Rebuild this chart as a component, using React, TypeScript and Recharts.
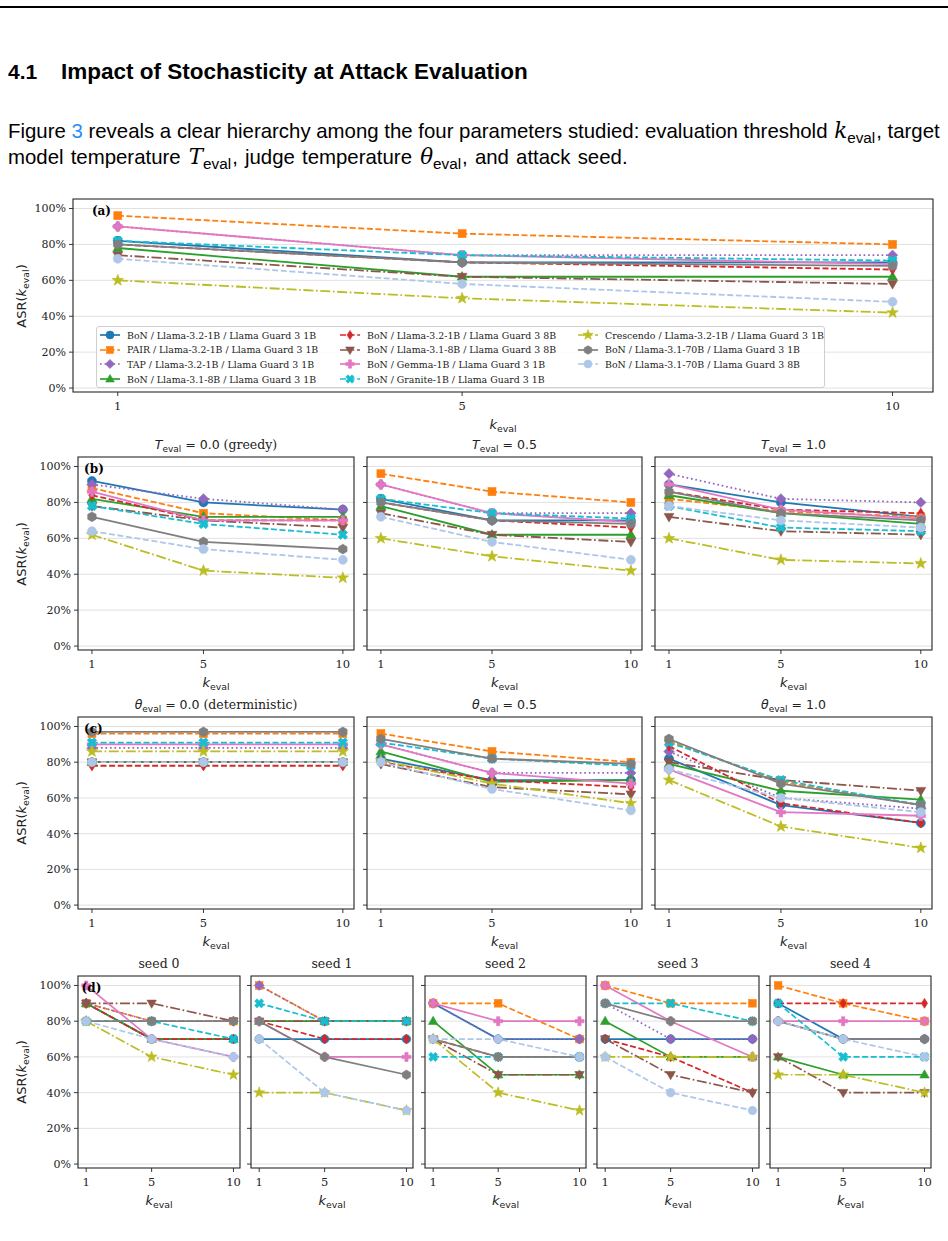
import React from 'react';
import { LineChart, Line, XAxis, YAxis, CartesianGrid, ReferenceArea } from 'recharts';

const K_EVAL = [1, 5, 10];
const Y_TICKS = [0, 20, 40, 60, 80, 100];
const X_TICKS = [1, 5, 10];
const Y_DOMAIN: [number, number] = [-2.2, 105.3];

const SERIES_NAMES = [
  'BoN / Llama-3.2-1B / Llama Guard 3 1B',
  'PAIR / Llama-3.2-1B / Llama Guard 3 1B',
  'TAP / Llama-3.2-1B / Llama Guard 3 1B',
  'BoN / Llama-3.1-8B / Llama Guard 3 1B',
  'BoN / Llama-3.2-1B / Llama Guard 3 8B',
  'BoN / Llama-3.1-8B / Llama Guard 3 8B',
  'BoN / Gemma-1B / Llama Guard 3 1B',
  'BoN / Granite-1B / Llama Guard 3 1B',
  'Crescendo / Llama-3.2-1B / Llama Guard 3 1B',
  'BoN / Llama-3.1-70B / Llama Guard 3 1B',
  'BoN / Llama-3.1-70B / Llama Guard 3 8B',
];
const SERIES_COLORS = ['#1f77b4', '#ff7f0e', '#9467bd', '#2ca02c', '#d62728', '#8c564b', '#e377c2', '#17becf', '#bcbd22', '#7f7f7f', '#aec7e8'];
const SERIES_MARKERS = ['o', 's', 'D', '^', 'd', 'v', 'P', 'X', '*', 'h', 'o'];
const SERIES_STYLES = ['solid', 'dashed', 'dotted', 'solid', 'dashed', 'dashdot', 'solid', 'dashed', 'dashdot', 'solid', 'dashed'];

// ASR (%) at k_eval = 1, 5, 10 ; series order as SERIES_NAMES
// (a) and T_eval = 0.5
const T_EVAL_05 = [
  [82, 70, 70], [96, 86, 80], [90, 74, 74], [78, 62, 62], [80, 70, 66], [74, 62, 58],
  [90, 74, 69], [82, 74, 71], [60, 50, 42], [80, 70, 68], [72, 58, 48],
];
const T_EVAL_00 = [
  [92, 80, 76], [88, 74, 70], [90, 82, 76], [82, 72, 72], [84, 70, 70], [78, 70, 66],
  [86, 70, 70], [78, 68, 62], [62, 42, 38], [72, 58, 54], [64, 54, 48],
];
const T_EVAL_10 = [
  [90, 80, 72], [82, 75, 72], [96, 82, 80], [84, 74, 68], [86, 76, 74], [72, 64, 62],
  [90, 76, 71], [78, 66, 64], [60, 48, 46], [86, 74, 70], [78, 70, 66],
];
const THETA_00 = [
  [80, 80, 80], [96, 96, 96], [88, 88, 88], [80, 80, 80], [78, 78, 78], [80, 80, 80],
  [90, 90, 90], [91, 91, 91], [86, 86, 86], [97, 97, 97], [80, 80, 80],
];
const THETA_05 = [
  [82, 70, 70], [96, 86, 80], [90, 74, 74], [86, 69, 70], [80, 70, 66], [79, 66, 62],
  [90, 74, 68], [91, 82, 78], [81, 68, 57], [93, 82, 79], [80, 65, 53],
];
const THETA_10 = [
  [82, 56, 46], [92, 69, 56], [86, 60, 54], [79, 64, 59], [89, 57, 46], [80, 70, 64],
  [76, 52, 50], [91, 70, 56], [70, 44, 32], [93, 68, 56], [76, 60, 52],
];
const SEED_0 = [
  [90, 70, 70], [90, 80, 80], [90, 80, 80], [90, 70, 70], [90, 70, 70], [90, 90, 80],
  [100, 70, 60], [80, 80, 70], [80, 60, 50], [80, 80, 80], [80, 70, 60],
];
const SEED_1 = [
  [70, 70, 70], [100, 80, 80], [100, 80, 80], [80, 80, 80], [80, 70, 70], [80, 80, 80],
  [80, 60, 60], [90, 80, 80], [40, 40, 30], [80, 60, 50], [70, 40, 30],
];
const SEED_2 = [
  [90, 70, 70], [90, 90, 70], [90, 70, 70], [80, 50, 50], [70, 60, 60], [70, 50, 50],
  [90, 80, 80], [60, 60, 60], [70, 40, 30], [70, 60, 60], [70, 70, 60],
];
const SEED_3 = [
  [70, 70, 70], [100, 90, 90], [90, 70, 70], [80, 60, 60], [70, 60, 40], [70, 50, 40],
  [100, 80, 60], [90, 90, 80], [60, 60, 60], [90, 80, 80], [60, 40, 30],
];
const SEED_4 = [
  [90, 70, 70], [100, 90, 80], [80, 70, 70], [60, 50, 50], [90, 90, 90], [60, 40, 40],
  [80, 80, 80], [90, 60, 60], [50, 50, 40], [80, 70, 70], [80, 70, 60],
];

const T_VALUES = ['0.0', '0.5', '1.0'];
const T_NOTES = [' (greedy)', '', ''];
const THETA_VALUES = ['0.0', '0.5', '1.0'];
const THETA_NOTES = [' (deterministic)', '', ''];
const SEED_TITLES = ['seed 0', 'seed 1', 'seed 2', 'seed 3', 'seed 4'];

const FONT_SERIF = '"DejaVu Serif", serif';
const FONT_SANS = '"DejaVu Sans", sans-serif';
const FONT_DOC = '"Liberation Sans", Arial, sans-serif';
const FONT_MATH = '"DejaVu Serif", serif';
const INK = '#222';

const DASHES: Record<string, string | undefined> = {
  solid: undefined,
  dashed: '6 2.6',
  dotted: '1.7 2.8',
  dashdot: '10 2.6 1.7 2.6',
};

function pts(list: number[][], cx: number, cy: number) {
  return list.map(([x, y]) => `${cx + x},${cy + y}`).join(' ');
}

function marker(m: string, cx: number, cy: number, r: number, color: string, key?: any) {
  const common = { fill: color, stroke: color, strokeWidth: 0.6 };
  switch (m) {
    case 'o':
      return <circle key={key} cx={cx} cy={cy} r={r} {...common} />;
    case 's':
      return <rect key={key} x={cx - r * 0.88} y={cy - r * 0.88} width={r * 1.76} height={r * 1.76} {...common} />;
    case 'D': {
      const d = r * 1.15;
      return <polygon key={key} points={pts([[0, -d], [d, 0], [0, d], [-d, 0]], cx, cy)} {...common} />;
    }
    case 'd': {
      const h = r * 1.15, w = r * 0.72;
      return <polygon key={key} points={pts([[0, -h], [w, 0], [0, h], [-w, 0]], cx, cy)} {...common} />;
    }
    case '^': {
      const s = r * 1.15;
      return <polygon key={key} points={pts([[0, -s], [s * 0.95, s * 0.65], [-s * 0.95, s * 0.65]], cx, cy)} {...common} />;
    }
    case 'v': {
      const s = r * 1.15;
      return <polygon key={key} points={pts([[0, s], [s * 0.95, -s * 0.65], [-s * 0.95, -s * 0.65]], cx, cy)} {...common} />;
    }
    case 'P':
    case 'X': {
      const R = r * 1.05, w = R * 0.36;
      let p = [[-w, -R], [w, -R], [w, -w], [R, -w], [R, w], [w, w], [w, R], [-w, R], [-w, w], [-R, w], [-R, -w], [-w, -w]];
      if (m === 'X') {
        const c = Math.SQRT1_2;
        p = p.map(([x, y]) => [(x - y) * c * 1.05, (x + y) * c * 1.05]);
      }
      return <polygon key={key} points={pts(p, cx, cy)} {...common} />;
    }
    case '*': {
      const out = r * 1.35, inn = r * 0.55;
      const p: number[][] = [];
      for (let i = 0; i < 10; i++) {
        const a = -Math.PI / 2 + (i * Math.PI) / 5;
        const rr = i % 2 === 0 ? out : inn;
        p.push([rr * Math.cos(a), rr * Math.sin(a)]);
      }
      return <polygon key={key} points={pts(p, cx, cy)} {...common} />;
    }
    case 'h': {
      const R = r * 1.08;
      const p: number[][] = [];
      for (let i = 0; i < 6; i++) {
        const a = -Math.PI / 2 + (i * Math.PI) / 3;
        p.push([R * Math.cos(a), R * Math.sin(a)]);
      }
      return <polygon key={key} points={pts(p, cx, cy)} {...common} />;
    }
    default:
      return <circle key={key} cx={cx} cy={cy} r={r} {...common} />;
  }
}

function Sub({ children, size = '0.72em' }: { children: React.ReactNode; size?: string }) {
  return <span style={{ fontSize: size, position: 'relative', top: '0.3em' }}>{children}</span>;
}

function KLabel() {
  return (
    <span style={{ fontFamily: FONT_SANS }}>
      <i>k</i>
      <Sub>eval</Sub>
    </span>
  );
}

type PanelProps = {
  x0: number; x1: number; y0: number; y1: number;
  values: number[][];
  xDomain: [number, number];
  showYLabels: boolean;
  title?: React.ReactNode;
  tag?: string;
  r: number;
  lw: number;
};

function Panel({ x0, x1, y0, y1, values, xDomain, showYLabels, title, tag, r, lw }: PanelProps) {
  const yw = showYLabels ? 64 : 8;
  const mt = 6, mr = 6, xh = 30;
  const left = x0 - yw;
  const top = y0 - mt;
  const width = yw + (x1 - x0) + mr;
  const height = mt + (y1 - y0) + xh;
  const rows = K_EVAL.map((k, i) => {
    const row: Record<string, number> = { k };
    values.forEach((s, j) => { row['s' + j] = s[i]; });
    return row;
  });
  const cxPlot = (x0 + x1) / 2;
  return (
    <>
      <div style={{ position: 'absolute', left, top, width, height }}>
        <LineChart width={width} height={height} data={rows} margin={{ top: mt, right: mr, bottom: 0, left: 0 }}>
          <CartesianGrid vertical={false} stroke="#dedede" strokeWidth={0.9} />
          <XAxis
            dataKey="k" type="number" domain={xDomain} ticks={X_TICKS} allowDataOverflow interval={0}
            height={xh} tickSize={4} tickMargin={6} axisLine={false}
            tickLine={{ stroke: INK, strokeWidth: 0.9 }}
            tick={{ fontFamily: FONT_SERIF, fontSize: 11.5, fill: INK }}
          />
          <YAxis
            type="number" domain={Y_DOMAIN} ticks={Y_TICKS} allowDataOverflow interval={0}
            width={yw} tickSize={4} tickMargin={3} axisLine={false}
            tickLine={{ stroke: INK, strokeWidth: 0.9 }}
            tick={{ fontFamily: FONT_SERIF, fontSize: 11, fill: INK }}
            tickFormatter={(v: number) => (showYLabels ? `${v}%` : '')}
          />
          {values.map((_, j) => (
            <Line
              key={j}
              dataKey={'s' + j}
              type="linear"
              stroke={SERIES_COLORS[j]}
              strokeWidth={lw}
              strokeDasharray={DASHES[SERIES_STYLES[j]]}
              isAnimationActive={false}
              activeDot={false}
              dot={(p: any) => marker(SERIES_MARKERS[j], p.cx, p.cy, r, SERIES_COLORS[j], `m${j}-${p.index}`)}
            />
          ))}
          <ReferenceArea
            x1={xDomain[0]} x2={xDomain[1]} y1={Y_DOMAIN[0]} y2={Y_DOMAIN[1]}
            fill="none" fillOpacity={0} stroke={INK} strokeWidth={1.1} ifOverflow="visible"
          />
        </LineChart>
      </div>
      {title && (
        <div style={{
          position: 'absolute', left: x0 - 40, width: x1 - x0 + 80, top: y0 - 20, height: 16,
          textAlign: 'center', fontSize: 12.5, lineHeight: '16px', color: INK, whiteSpace: 'nowrap',
        }}>{title}</div>
      )}
      {tag && (
        <div style={{
          position: 'absolute', left: x0 + 0.022 * (x1 - x0), top: y0 + 5, fontFamily: FONT_SERIF,
          fontWeight: 'bold', fontSize: 12, lineHeight: '14px', color: '#000',
        }}>{tag}</div>
      )}
      <div style={{
        position: 'absolute', left: cxPlot - 40, width: 80, top: y1 + 25, height: 18,
        textAlign: 'center', fontSize: 13, lineHeight: '16px', color: INK,
      }}><KLabel /></div>
      {showYLabels && (
        <div style={{
          position: 'absolute', left: 23 - 60, width: 120, top: (y0 + y1) / 2 - 9, height: 18,
          textAlign: 'center', fontSize: 13, lineHeight: '16px', color: INK,
          transform: 'rotate(-90deg)', fontFamily: FONT_SANS, whiteSpace: 'nowrap',
        }}>ASR(<KLabel />)</div>
      )}
    </>
  );
}

function LegendA() {
  const cols = [[0, 1, 2, 3], [4, 5, 6, 7], [8, 9, 10]];
  const colX = [0, 240, 478];
  return (
    <div style={{
      position: 'absolute', left: 96, top: 326, width: 729, height: 62, boxSizing: 'border-box',
      background: 'rgba(255,255,255,0.85)', border: '1px solid #cfcfcf', borderRadius: 3,
    }}>
      {cols.map((col, ci) => col.map((j, ri) => (
        <div key={j} style={{ position: 'absolute', left: colX[ci], top: 1 + ri * 14.7, height: 14, display: 'flex', alignItems: 'center' }}>
          <svg width={24} height={12} style={{ marginLeft: 1 }}>
            <line x1={2} y1={6} x2={22} y2={6} stroke={SERIES_COLORS[j]} strokeWidth={1.7} strokeDasharray={DASHES[SERIES_STYLES[j]]} />
            {marker(SERIES_MARKERS[j], 12, 6, 4, SERIES_COLORS[j])}
          </svg>
          <span style={{ marginLeft: 5, fontFamily: FONT_SERIF, fontSize: 9.4, color: INK, whiteSpace: 'nowrap' }}>{SERIES_NAMES[j]}</span>
        </div>
      )))}
    </div>
  );
}

function tTitle(v: string, note: string) {
  return (
    <>
      <span style={{ fontFamily: FONT_SANS }}><i>T</i><Sub>eval</Sub> = {v}</span>
      <span style={{ fontFamily: FONT_SERIF }}>{note}</span>
    </>
  );
}
function thetaTitle(v: string, note: string) {
  return (
    <>
      <span style={{ fontFamily: FONT_SANS }}><i>θ</i><Sub>eval</Sub> = {v}</span>
      <span style={{ fontFamily: FONT_SERIF }}>{note}</span>
    </>
  );
}

function MathSym({ s }: { s: string }) {
  return (
    <span style={{ margin: '0 1px' }}>
      <span style={{ fontFamily: FONT_MATH, fontStyle: 'italic', fontSize: '1.05em' }}>{s}</span>
      <Sub size="0.75em">eval</Sub>
    </span>
  );
}

export default function App() {
  const colsBC: [number, number][] = [[78, 354], [367, 642], [655, 932]];
  const colsD: [number, number][] = [[78, 240], [251, 413], [425, 586], [597, 759], [770, 931]];
  const tData = [T_EVAL_00, T_EVAL_05, T_EVAL_10];
  const thData = [THETA_00, THETA_05, THETA_10];
  const sData = [SEED_0, SEED_1, SEED_2, SEED_3, SEED_4];
  const dom: [number, number] = [0.5, 10.4];
  return (
    <div style={{ position: 'absolute', left: 0, top: 0, width: 948, height: 1241, background: '#fff', overflow: 'hidden', fontFamily: FONT_DOC }}>
      <div style={{ position: 'absolute', left: 0, top: 6, width: 948, height: 1.5, background: '#000' }} />
      <div style={{ position: 'absolute', left: 8, top: 61, fontWeight: 'bold', fontSize: 21, lineHeight: '22px', color: '#000', whiteSpace: 'nowrap' }}>4.1</div>
      <div style={{ position: 'absolute', left: 61, top: 61, fontWeight: 'bold', fontSize: 22.5, lineHeight: '22px', color: '#000', whiteSpace: 'nowrap' }}>Impact of Stochasticity at Attack Evaluation</div>
      <div style={{ position: 'absolute', left: 8, top: 120, fontSize: 20.4, lineHeight: '22px', color: '#000', whiteSpace: 'nowrap' }}>
        Figure <span style={{ color: '#2a8cff' }}>3</span> reveals a clear hierarchy among the four parameters studied: evaluation threshold <MathSym s="k" />, target
      </div>
      <div style={{ position: 'absolute', left: 8, top: 146, fontSize: 20.4, lineHeight: '22px', color: '#000', whiteSpace: 'nowrap', wordSpacing: '1.5px' }}>
        model temperature <MathSym s="T" />, judge temperature <MathSym s="θ" />, and attack seed.
      </div>

      <Panel x0={73} x1={933} y0={199} y1={392} values={T_EVAL_05} xDomain={[0.48, 10.47]} showYLabels tag="(a)" r={4.5} lw={1.8} />
      <LegendA />

      {colsBC.map(([a, b], i) => (
        <Panel key={'b' + i} x0={a} x1={b} y0={457} y1={650} values={tData[i]} xDomain={dom} showYLabels={i === 0}
          tag={i === 0 ? '(b)' : undefined} title={tTitle(T_VALUES[i], T_NOTES[i])} r={4.5} lw={1.8} />
      ))}
      {colsBC.map(([a, b], i) => (
        <Panel key={'c' + i} x0={a} x1={b} y0={717} y1={909} values={thData[i]} xDomain={dom} showYLabels={i === 0}
          tag={i === 0 ? '(c)' : undefined} title={thetaTitle(THETA_VALUES[i], THETA_NOTES[i])} r={4.5} lw={1.8} />
      ))}
      {colsD.map(([a, b], i) => (
        <Panel key={'d' + i} x0={a} x1={b} y0={976} y1={1168} values={sData[i]} xDomain={dom} showYLabels={i === 0}
          tag={i === 0 ? '(d)' : undefined} title={<span style={{ fontFamily: FONT_SERIF }}>{SEED_TITLES[i]}</span>} r={4.3} lw={1.7} />
      ))}
    </div>
  );
}
